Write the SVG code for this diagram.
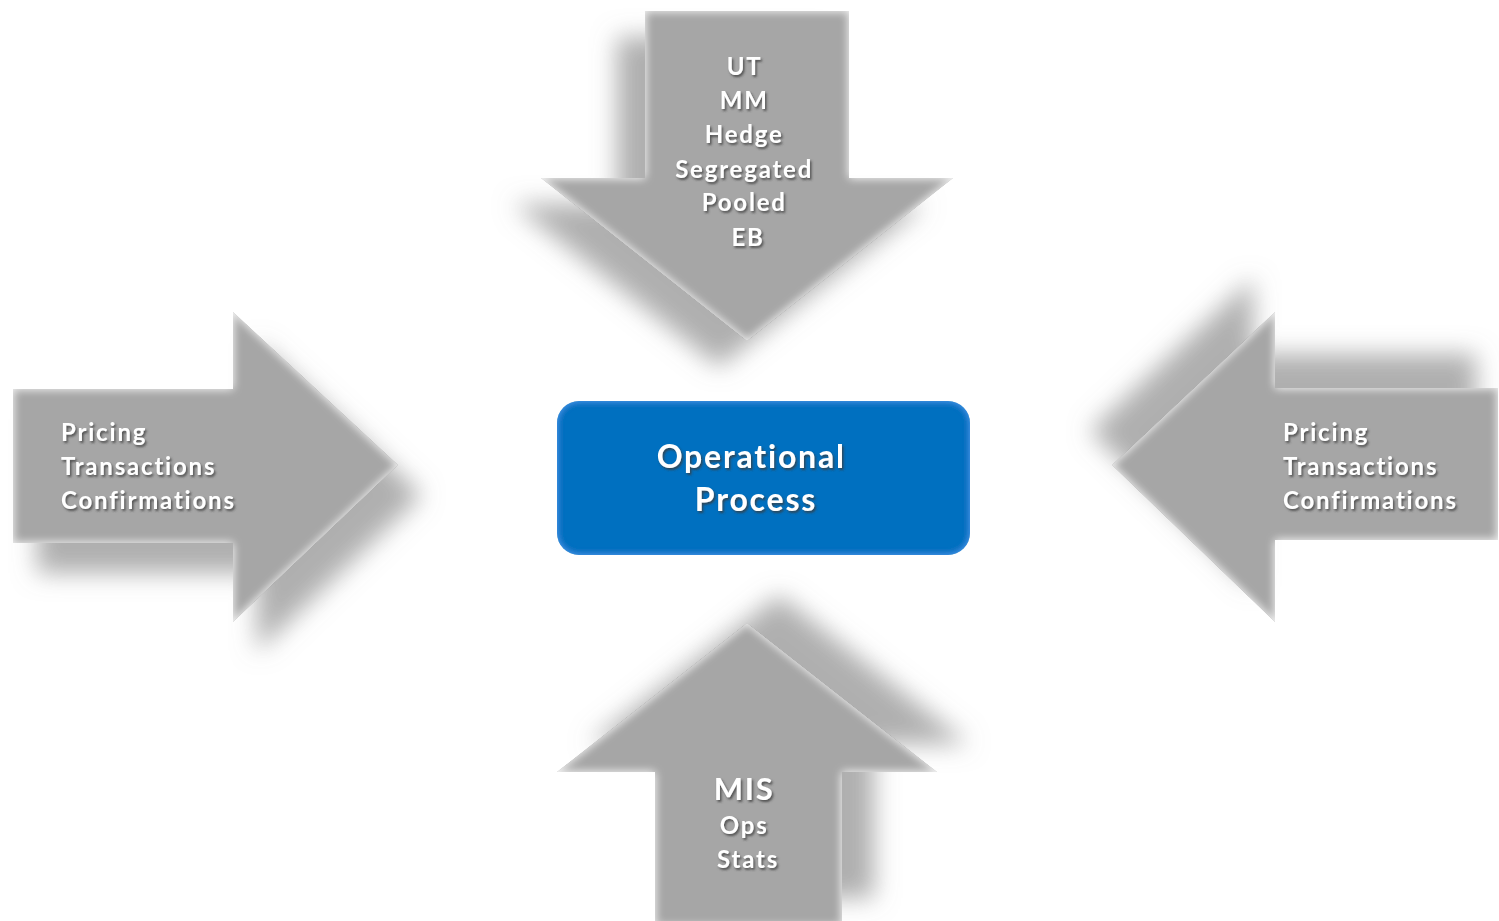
<svg xmlns="http://www.w3.org/2000/svg" width="1499" height="921" viewBox="0 0 1499 921">
  <style>
    .arrow { fill: #a6a6a6; }
    .lbl { font-family: Lato, "Open Sans", "Liberation Sans", sans-serif; font-weight: bold; font-size: 24px; letter-spacing: 1.8px; fill: #ffffff; filter: url(#txtShadow); }
    .big { font-size: 32px; }
  </style>
  <defs>
    <filter id="txtShadow" x="-10%" y="-30%" width="120%" height="160%">
      <feDropShadow dx="1.5" dy="2" stdDeviation="1.2" flood-color="#3a3a3a" flood-opacity="0.8"/>
    </filter>
    <filter id="bevelTop" x="-20%" y="-20%" width="140%" height="140%">
      <feGaussianBlur in="SourceAlpha" stdDeviation="12" result="sb"/>
      <feOffset in="sb" dx="-28" dy="26" result="so"/>
      <feFlood flood-color="#7a7a7a" flood-opacity="0.6"/>
      <feComposite in2="so" operator="in" result="shadow"/>
      <feGaussianBlur in="SourceAlpha" stdDeviation="5" result="eb"/>
      <feComposite in="SourceAlpha" in2="eb" operator="arithmetic" k2="1" k3="-1" result="edge"/>
      <feFlood flood-color="#ffffff" flood-opacity="0.85"/>
      <feComposite in2="edge" operator="in" result="hl"/>
      <feMerge><feMergeNode in="shadow"/><feMergeNode in="SourceGraphic"/><feMergeNode in="hl"/></feMerge>
    </filter>
    <filter id="bevelLeft" x="-20%" y="-20%" width="140%" height="140%">
      <feGaussianBlur in="SourceAlpha" stdDeviation="12" result="sb"/>
      <feOffset in="sb" dx="24" dy="30" result="so"/>
      <feFlood flood-color="#7a7a7a" flood-opacity="0.6"/>
      <feComposite in2="so" operator="in" result="shadow"/>
      <feGaussianBlur in="SourceAlpha" stdDeviation="5" result="eb"/>
      <feComposite in="SourceAlpha" in2="eb" operator="arithmetic" k2="1" k3="-1" result="edge"/>
      <feFlood flood-color="#ffffff" flood-opacity="0.85"/>
      <feComposite in2="edge" operator="in" result="hl"/>
      <feMerge><feMergeNode in="shadow"/><feMergeNode in="SourceGraphic"/><feMergeNode in="hl"/></feMerge>
    </filter>
    <filter id="bevelRight" x="-20%" y="-20%" width="140%" height="140%">
      <feGaussianBlur in="SourceAlpha" stdDeviation="12" result="sb"/>
      <feOffset in="sb" dx="-22" dy="-34" result="so"/>
      <feFlood flood-color="#7a7a7a" flood-opacity="0.6"/>
      <feComposite in2="so" operator="in" result="shadow"/>
      <feGaussianBlur in="SourceAlpha" stdDeviation="5" result="eb"/>
      <feComposite in="SourceAlpha" in2="eb" operator="arithmetic" k2="1" k3="-1" result="edge"/>
      <feFlood flood-color="#ffffff" flood-opacity="0.85"/>
      <feComposite in2="edge" operator="in" result="hl"/>
      <feMerge><feMergeNode in="shadow"/><feMergeNode in="SourceGraphic"/><feMergeNode in="hl"/></feMerge>
    </filter>
    <filter id="bevelBottom" x="-20%" y="-20%" width="140%" height="140%">
      <feGaussianBlur in="SourceAlpha" stdDeviation="12" result="sb"/>
      <feOffset in="sb" dx="32" dy="-28" result="so"/>
      <feFlood flood-color="#7a7a7a" flood-opacity="0.6"/>
      <feComposite in2="so" operator="in" result="shadow"/>
      <feGaussianBlur in="SourceAlpha" stdDeviation="5" result="eb"/>
      <feComposite in="SourceAlpha" in2="eb" operator="arithmetic" k2="1" k3="-1" result="edge"/>
      <feFlood flood-color="#ffffff" flood-opacity="0.85"/>
      <feComposite in2="edge" operator="in" result="hl"/>
      <feMerge><feMergeNode in="shadow"/><feMergeNode in="SourceGraphic"/><feMergeNode in="hl"/></feMerge>
    </filter>
    <filter id="boxEdge" x="-5%" y="-10%" width="110%" height="120%">
      <feGaussianBlur in="SourceAlpha" stdDeviation="3" result="eb"/>
      <feComposite in="SourceAlpha" in2="eb" operator="arithmetic" k2="1" k3="-1" result="edge"/>
      <feFlood flood-color="#4da6ff" flood-opacity="0.8"/>
      <feComposite in2="edge" operator="in" result="hl"/>
      <feMerge><feMergeNode in="SourceGraphic"/><feMergeNode in="hl"/></feMerge>
    </filter>
  </defs>
  <rect width="1499" height="921" fill="#ffffff"/>

  <g id="arrow-top">
    <path class="arrow" filter="url(#bevelTop)" d="M645,11 L849,11 L849,178 L953,178 L747,341 L541,178 L645,178 Z"/>
    <text class="lbl" text-anchor="middle">
      <tspan x="748" y="75">UT</tspan>
      <tspan x="748" y="109">MM</tspan>
      <tspan x="748" y="143">Hedge</tspan>
      <tspan x="748" y="178">Segregated</tspan>
      <tspan x="748" y="211">Pooled</tspan>
      <tspan x="748" y="246">EB</tspan>
    </text>
  </g>

  <g id="arrow-left">
    <path class="arrow" filter="url(#bevelLeft)" d="M13,389 L233,389 L233,312 L398,465 L233,622 L233,543 L13,543 Z"/>
    <text class="lbl">
      <tspan x="61" y="441">Pricing</tspan>
      <tspan x="61" y="475">Transactions</tspan>
      <tspan x="61" y="509">Confirmations</tspan>
    </text>
  </g>

  <g id="arrow-right">
    <path class="arrow" filter="url(#bevelRight)" d="M1498,388 L1275,388 L1275,312 L1112,465 L1275,622 L1275,540 L1498,540 Z"/>
    <text class="lbl">
      <tspan x="1283" y="441">Pricing</tspan>
      <tspan x="1283" y="475">Transactions</tspan>
      <tspan x="1283" y="509">Confirmations</tspan>
    </text>
  </g>

  <g id="arrow-bottom">
    <path class="arrow" filter="url(#bevelBottom)" d="M747,623 L937,772 L842,772 L842,926 L655,926 L655,772 L557,772 Z"/>
    <text class="lbl" text-anchor="middle">
      <tspan x="748" y="800" font-size="31">MIS</tspan>
      <tspan x="748" y="834">Ops</tspan>
      <tspan x="748" y="868">Stats</tspan>
    </text>
  </g>

  <g id="operational-process">
    <rect x="557" y="401" width="413" height="154" rx="22" ry="22" fill="#0070c0" filter="url(#boxEdge)"/>
    <text class="lbl big" text-anchor="middle">
      <tspan x="756" y="468">Operational</tspan>
      <tspan x="756" y="511">Process</tspan>
    </text>
  </g>

  <g id="connectors"></g>
</svg>
